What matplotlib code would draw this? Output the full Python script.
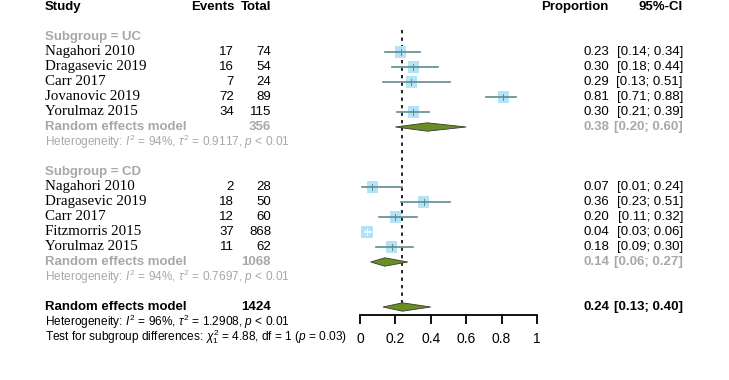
import matplotlib
matplotlib.use("Agg")
import matplotlib.pyplot as plt
from matplotlib.transforms import blended_transform_factory
from matplotlib.patches import Polygon, Rectangle

# data
uc_studies = ["Nagahori 2010", "Dragasevic 2019", "Carr 2017", "Jovanovic 2019", "Yorulmaz 2015"]
uc_events = [17, 16, 7, 72, 34]
uc_total = [74, 54, 24, 89, 115]
uc_prop = [0.23, 0.30, 0.29, 0.81, 0.30]
uc_lo = [0.14, 0.18, 0.13, 0.71, 0.21]
uc_hi = [0.34, 0.44, 0.51, 0.88, 0.39]
uc_pooled = (0.38, 0.20, 0.60)
uc_n = 356
uc_het = r"Heterogeneity: $I^2$ = 94%, $\tau^2$ = 0.9117, $p$ < 0.01"

cd_studies = ["Nagahori 2010", "Dragasevic 2019", "Carr 2017", "Fitzmorris 2015", "Yorulmaz 2015"]
cd_events = [2, 18, 12, 37, 11]
cd_total = [28, 50, 60, 868, 62]
cd_prop = [0.07, 0.36, 0.20, 0.04, 0.18]
cd_lo = [0.01, 0.23, 0.11, 0.03, 0.09]
cd_hi = [0.24, 0.51, 0.32, 0.06, 0.30]
cd_pooled = (0.14, 0.06, 0.27)
cd_n = 1068
cd_het = r"Heterogeneity: $I^2$ = 94%, $\tau^2$ = 0.7697, $p$ < 0.01"

all_pooled = (0.24, 0.13, 0.40)
all_n = 1424
all_het = r"Heterogeneity: $I^2$ = 96%, $\tau^2$ = 1.2908, $p$ < 0.01"
test_txt = r"Test for subgroup differences: $\chi^2_1$ = 4.88, df = 1 ($p$ = 0.03)"
xticks = [0, 0.2, 0.4, 0.6, 0.8, 1]
xticklabels = ["0", "0.2", "0.4", "0.6", "0.8", "1"]

plt.rcParams["mathtext.fontset"] = "custom"
plt.rcParams["mathtext.rm"] = "Liberation Sans"
plt.rcParams["mathtext.it"] = "Liberation Sans:italic"
plt.rcParams["mathtext.bf"] = "Liberation Sans:bold"

SANS = "Liberation Sans"
SERIF = "Liberation Serif"
GRAY = "#a8a8a8"
SQ = "#b3e3f7"
CI = "#5f8b8e"
DIA = "#6b8e23"
FS = 9.5      # numbers and bold labels
FS_SMALL = 8.6  # heterogeneity lines
W, H = 729, 380

fig = plt.figure(figsize=(W / 100, H / 100), dpi=100)
ax = fig.add_axes([360 / W, 0, 177 / W, 1])
# rows: row r sits at pixel 7 + 15 r
ax.set_ylim((H - 7) / 15, -7 / 15)
ax.set_xlim(0, 1)
ax.patch.set_alpha(0)
for s in ["top", "left", "right"]:
    ax.spines[s].set_visible(False)
ax.spines["bottom"].set_position(("data", (314.5 - 7) / 15))
ax.spines["bottom"].set_bounds(0, 1)
ax.spines["bottom"].set_linewidth(1.3)
ax.set_yticks([])
ax.set_xticks(xticks)
ax.set_xticklabels(xticklabels, fontfamily=SANS, fontsize=FS + 0.5)
ax.tick_params(axis="x", direction="out", length=6.5, width=1.3, pad=6)

tr = blended_transform_factory(fig.transFigure, ax.transData)
xs = lambda px: px / W

X_STUDY, X_EV, X_TOT, X_PROP, X_CI = 45, 234, 271, 609, 683


def txt(px, row, s, ha="left", **kw):
    kw.setdefault("fontfamily", SANS)
    kw.setdefault("fontsize", FS)
    ax.text(xs(px), row, s, ha=ha, va="center", transform=tr, **kw)


def study_rows(start, names, ev, tot, p, lo, hi):
    hw = 5.6 / 177
    hh = 5.6 / 15
    for i, name in enumerate(names):
        r = start + i
        txt(X_STUDY, r, name, fontfamily=SERIF, fontsize=10.8)
        txt(X_EV, r, str(ev[i]), ha="right")
        txt(X_TOT, r, str(tot[i]), ha="right")
        txt(X_PROP, r, f"{p[i]:.2f}", ha="right")
        txt(X_CI, r, f"[{lo[i]:.2f}; {hi[i]:.2f}]", ha="right")
        ax.add_patch(Rectangle((p[i] - hw, r - hh), 2 * hw, 2 * hh,
                               facecolor=SQ, edgecolor="none", zorder=1))
        inside = lo[i] > p[i] - hw and hi[i] < p[i] + hw
        col = "white" if inside else CI
        ax.plot([lo[i], hi[i]], [r, r], color=col, lw=1.2, zorder=2)
        ax.plot([p[i], p[i]], [r - 0.2, r + 0.2], color=col, lw=0.7, zorder=3)


def diamond(r, est, lo, hi):
    h = 0.28
    ax.add_patch(Polygon([(lo, r), (est, r - h), (hi, r), (est, r + h)],
                         closed=True, facecolor=DIA, edgecolor="#3a3a3a", lw=0.6, zorder=3))


def pooled_row(r, n, est, lo, hi, color):
    txt(X_STUDY, r, "Random effects model", fontweight="bold", color=color)
    txt(X_TOT, r, str(n), ha="right", fontweight="bold", color=color)
    txt(X_PROP, r, f"{est:.2f}", ha="right", fontweight="bold", color=color)
    txt(X_CI, r, f"[{lo:.2f}; {hi:.2f}]", ha="right", fontweight="bold", color=color)
    diamond(r, est, lo, hi)


# header
txt(X_STUDY, 0, "Study", fontweight="bold")
txt(X_EV, 0, "Events", ha="right", fontweight="bold")
txt(X_TOT, 0, "Total", ha="right", fontweight="bold")
txt(X_PROP, 0, "Proportion", ha="right", fontweight="bold")
txt(X_CI, 0, "95%-CI", ha="right", fontweight="bold")

# UC subgroup
txt(X_STUDY, 2, "Subgroup = UC", fontweight="bold", color=GRAY)
study_rows(3, uc_studies, uc_events, uc_total, uc_prop, uc_lo, uc_hi)
pooled_row(8, uc_n, *uc_pooled, GRAY)
txt(X_STUDY, 9, uc_het, color=GRAY, fontsize=FS_SMALL)

# CD subgroup
txt(X_STUDY, 11, "Subgroup = CD", fontweight="bold", color=GRAY)
study_rows(12, cd_studies, cd_events, cd_total, cd_prop, cd_lo, cd_hi)
pooled_row(17, cd_n, *cd_pooled, GRAY)
txt(X_STUDY, 18, cd_het, color=GRAY, fontsize=FS_SMALL)

# overall
pooled_row(20, all_n, *all_pooled, "black")
txt(X_STUDY, 21, all_het, fontsize=FS_SMALL)
txt(X_STUDY, 22, test_txt, fontsize=FS_SMALL)

# reference line at overall estimate
ax.plot([all_pooled[0]] * 2, [(30 - 7) / 15, (312 - 7) / 15], color="black",
        lw=1.2, ls=(0, (2, 2.5)), zorder=0)

fig.savefig("out.png", dpi=100)
